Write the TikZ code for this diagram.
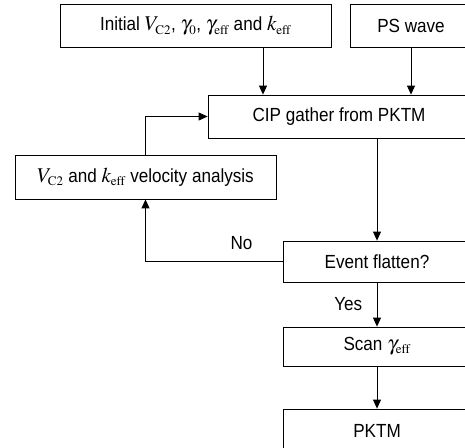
\documentclass[tikz,border=0pt]{standalone}
\usepackage{mathptmx}
\usepackage[no-math]{fontspec}
\setmainfont[FakeStretch = 0.9]{Liberation Sans}
\DeclareMathSizes{19}{21}{13}{10}
\usetikzlibrary{arrows.meta}
\begin{document}
\begin{tikzpicture}[x = 1pt, y = -1pt,
		lbl/.style = {font = \fontsize{19}{22}\selectfont},
		blk/.style = {lbl, draw, line width = .8pt, inner sep = 0pt, minimum height = 43pt},
		arr/.style = {line width = .9pt, -{Triangle[length = 9pt, width = 8pt]}}]
	\useasboundingbox (0, 0) rectangle (465, 447);
	\clip (0, 0) rectangle (465, 447);
	\def\eff{\mathrm{eff}} \def\ctwo{\mathrm{C2}}
	% inputs
	\node[blk, minimum width = 271pt] (init) at (195.5, 26) {Initial $V_{\ctwo}$, $\gamma_0$, $\gamma_{\eff}$ and $k_{\eff}$};
	\node[blk, minimum width = 122pt] (ps) at (411, 26) {PS wave};
	% main column
	\node[blk, minimum width = 262pt] (cip) at (339, 116.5) {CIP gather from PKTM};
	\node[blk, minimum width = 261pt, minimum height = 44pt] (vel) at (145.5, 177) {$V_{\ctwo}$ and $k_{\eff}$ velocity analysis};
	\node[blk, minimum width = 188pt, minimum height = 41pt] (flat) at (377, 261.5) {Event flatten?};
	\node[blk, minimum width = 188pt, minimum height = 39pt] (scan) at (377, 346.5) {Scan $\gamma_{\eff}$};
	\node[blk, minimum width = 188pt] (pktm) at (377, 430.5) {PKTM};
	% connectors
	\draw[arr] ([xshift = 67.5pt]init.south) -- ([xshift = 67.5pt]init.south |- cip.north);
	\draw[arr] (ps.south) -- (ps.south |- cip.north);
	\draw[arr] (cip.south -| flat.north) -- (flat.north);
	\draw[arr] (flat.west) -| node[lbl, pos = .15, above = 8pt]{No} (vel.south);
	\draw[arr] (vel.north) |- (cip.west);
	\draw[arr] (flat.south) -- node[lbl, left = 11pt]{Yes} (scan.north);
	\draw[arr] (scan.south) -- (pktm.north);
\end{tikzpicture}
\end{document}
